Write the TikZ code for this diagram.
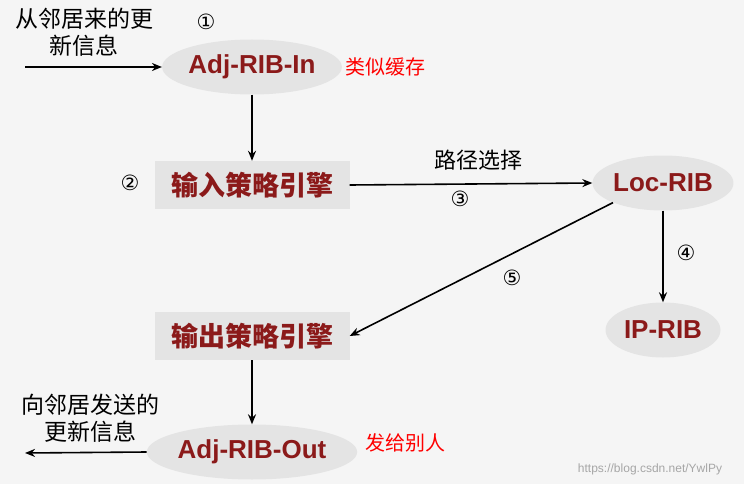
\documentclass[tikz,border=0pt]{standalone}
\usepackage{fontspec}
\setmainfont{Liberation Sans}
\newfontfamily\cjk{Noto Sans CJK SC}
\newfontfamily\djvfont{DejaVu Sans}
\usetikzlibrary{shapes.geometric,arrows.meta}
\definecolor{dred}{HTML}{8B1A1A}
\definecolor{boxg}{HTML}{E4E4E4}
\tikzset{
 ell/.style={ellipse,fill=boxg,text=dred,font=\bfseries\fontsize{26}{26}\selectfont,inner sep=0pt},
 rbox/.style={rectangle,fill=boxg,text=dred,font=\cjk\bfseries\fontsize{27}{27}\selectfont,minimum width=195pt,minimum height=48pt,inner sep=0pt},
 arr/.style={-{Stealth[length=10pt,width=8pt]},line width=1.6pt},
 note/.style={font=\cjk\fontsize{23}{27}\selectfont,align=center},
 num/.style={font=\djvfont\fontsize{21}{21}\selectfont},
 rednote/.style={font=\cjk\fontsize{20}{20}\selectfont,text=red}
}
\begin{document}
\begin{tikzpicture}[x=1pt,y=-1pt]
\fill[white!96!black] (0,0) rectangle (744,484);
\useasboundingbox (0,0) rectangle (744,484);
\node[ell,minimum width=170pt,minimum height=55pt] (in) at (252,67) {Adj-RIB-In};
\node[rbox] (pin) at (252,185) {输入策略引擎};
\node[ell,minimum width=120pt,minimum height=55pt] (loc) at (663,183) {Loc-RIB};
\node[ell,minimum width=115pt,minimum height=55pt] (ip) at (663,330) {IP-RIB};
\node[rbox] (pout) at (252,336) {输出策略引擎};
\node[ell,minimum width=175pt,minimum height=55pt] (out) at (252,452) {Adj-RIB-Out};
\node[note] (t1) at (84,32) {从邻居来的更\\新信息};
\node[note] (t2) at (90,418) {向邻居发送的\\更新信息};
\coordinate (s1) at (25,67);
\coordinate (e2) at (25,453);
\node[num] (n1) at (206,22) {①};
\node[num] (n2) at (130,183) {②};
\node[num] (n3) at (460,199) {③};
\node[num] (n4) at (686,253) {④};
\node[num] (n5) at (512,278) {⑤};
\node[rednote] (r1) at (385,67) {类似缓存};
\node[rednote] (r2) at (405,443) {发给别人};
\node[font=\cjk\fontsize{22}{22}\selectfont] (lbl) at (478,160) {路径选择};
\node[font=\fontsize{12}{12}\selectfont,text=gray!70] (wm) at (650,469) {https://blog.csdn.net/YwlPy};
\draw[arr] (s1) -- (in.west);
\draw[arr] (in) -- (pin);
\draw[arr] (pin.east) -- (loc.west);
\draw[arr] (loc) -- (ip);
\draw[arr] (loc.south west) -- (pout.east);
\draw[arr] (pout) -- (out);
\draw[arr] (out.west) -- (e2);
\end{tikzpicture}
\end{document}
